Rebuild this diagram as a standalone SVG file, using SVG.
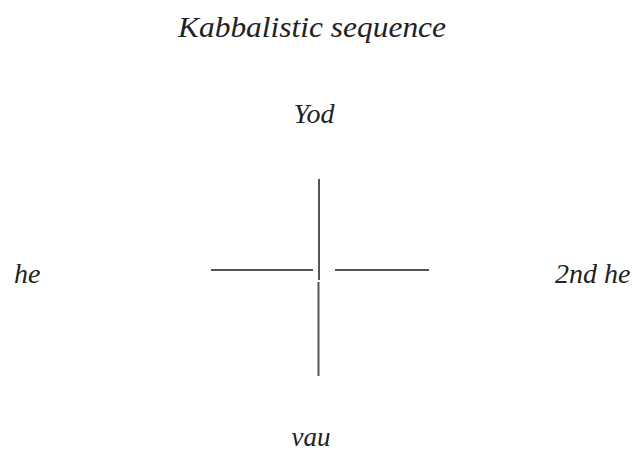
<svg xmlns="http://www.w3.org/2000/svg" width="643" height="454" viewBox="0 0 643 454">
<style>
.t{font-family:"Liberation Serif","Times New Roman",serif;font-style:italic;fill:#222;}
.c{stroke:#555;stroke-width:2;fill:none;stroke-linecap:butt;}
</style>
<rect width="643" height="454" fill="#fff"/>
<g id="title"><text class="t" x="312" y="37" font-size="30" text-anchor="middle" textLength="268" lengthAdjust="spacingAndGlyphs">Kabbalistic sequence</text></g>
<g id="yod"><text class="t" x="314" y="123" font-size="28" text-anchor="middle">Yod</text></g>
<g id="he"><text class="t" x="14" y="283" font-size="28">he</text></g>
<g id="he2"><text class="t" x="555" y="283" font-size="28">2nd he</text></g>
<g id="vau"><text class="t" x="311" y="446" font-size="27" text-anchor="middle">vau</text></g>
<g id="connectors">
<line class="c" x1="319" y1="179" x2="319" y2="280"/>
<line class="c" x1="318.5" y1="282" x2="318.5" y2="376"/>
<line class="c" x1="211" y1="270" x2="313" y2="270"/>
<line class="c" x1="335" y1="270" x2="429" y2="270"/>
</g>
</svg>
